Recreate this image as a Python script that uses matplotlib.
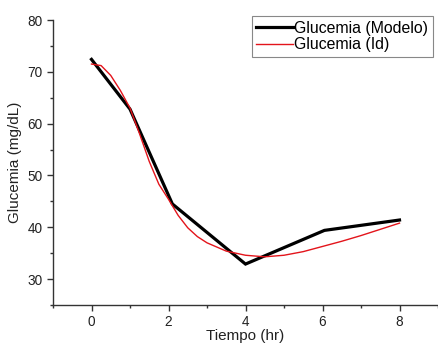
import matplotlib
matplotlib.use("Agg")
import matplotlib.pyplot as plt
from matplotlib.ticker import MultipleLocator

plt.rcParams["font.family"] = ["Liberation Sans", "DejaVu Sans"]

# Glucemia (Modelo): measured points
t_modelo = [0, 1, 2.1, 4, 6.05, 8]
g_modelo = [72.4, 62.8, 44.5, 32.9, 39.4, 41.4]

# Glucemia (Id): identified curve
t_id = [0, 0.25, 0.5, 0.75, 1.0, 1.25, 1.5, 1.75, 2.0, 2.25, 2.5, 2.75, 3.0,
        3.5, 4.0, 4.5, 5.0, 5.5, 6.0, 6.5, 7.0, 7.5, 8.0]
g_id = [71.5, 71.2, 69.3, 66.4, 63.0, 58.0, 52.7, 48.3, 45.4, 42.3, 39.9, 38.2, 37.0,
        35.4, 34.6, 34.3, 34.6, 35.3, 36.3, 37.3, 38.4, 39.6, 40.8]

fig = plt.figure(figsize=(4.38, 3.45), dpi=100)
ax = fig.add_axes([53 / 438, 40 / 345, 385 / 438, 285 / 345])

ax.plot(t_modelo, g_modelo, color="black", linewidth=2.3, label="Glucemia (Modelo)",
        solid_joinstyle="miter")
ax.plot(t_id, g_id, color="#e3141b", linewidth=1.0, label="Glucemia (Id)")

ax.set_xlim(-1, 9)
ax.set_ylim(25, 80)
ax.xaxis.set_major_locator(MultipleLocator(2))
ax.xaxis.set_minor_locator(MultipleLocator(1))
ax.yaxis.set_major_locator(MultipleLocator(10))
ax.yaxis.set_minor_locator(MultipleLocator(5))
ax.set_yticks([30, 40, 50, 60, 70, 80])

for side in ("top", "right"):
    ax.spines[side].set_visible(False)
for side in ("left", "bottom"):
    ax.spines[side].set_color("#333333")
    ax.spines[side].set_linewidth(1.0)

ax.tick_params(which="major", direction="out", length=4, width=1, labelsize=9.8,
               colors="#333333", labelcolor="#222222")
ax.tick_params(which="minor", direction="out", length=2.5, width=1, colors="#333333")

ax.set_xlabel("Tiempo (hr)", fontsize=11, color="#222222", labelpad=0)
ax.set_ylabel("Glucemia (mg/dL)", fontsize=11, color="#222222", labelpad=4)

leg = ax.legend(loc="upper right", bbox_to_anchor=(433 / 438, 1 - 16 / 345),
                bbox_transform=fig.transFigure, borderaxespad=0, fontsize=11.4,
                fancybox=False, framealpha=1, edgecolor="#888888",
                handlelength=2.3, handletextpad=0.1, labelspacing=0.1,
                borderpad=0.3)
leg.get_frame().set_linewidth(0.8)

fig.savefig("out.png", dpi=100)
